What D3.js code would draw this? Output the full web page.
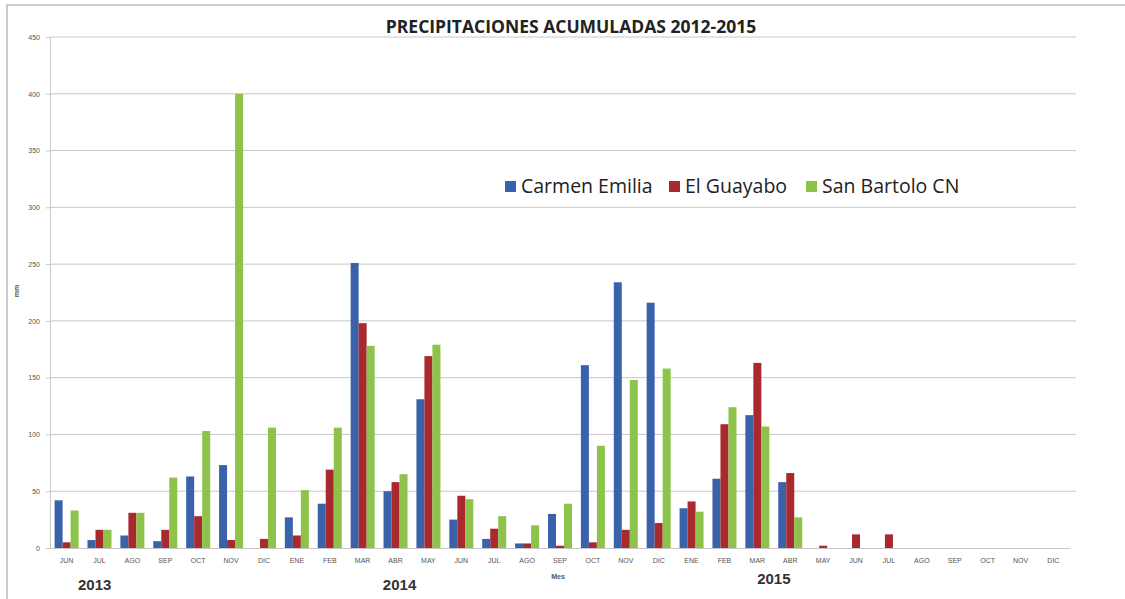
<!DOCTYPE html>
<html><head><meta charset="utf-8">
<script src="https://cdn.jsdelivr.net/npm/d3@7"></script>
<style>body{margin:0;background:#fff;}svg{display:block;}</style>
</head><body>
<script>
const months = ["JUN","JUL","AGO","SEP","OCT","NOV","DIC",
  "ENE","FEB","MAR","ABR","MAY","JUN","JUL","AGO","SEP","OCT","NOV","DIC",
  "ENE","FEB","MAR","ABR","MAY","JUN","JUL","AGO","SEP","OCT","NOV","DIC"];
const seriesNames = ["Carmen Emilia","El Guayabo","San Bartolo CN"];
const carmenEmilia = [42,7,11,6,63,73,0, 27,39,251,50,131,25,8,4,30,161,234,216, 35,61,117,58,0,0,0,0,0,0,0,0];
const elGuayabo    = [5,16,31,16,28,7,8, 11,69,198,58,169,46,17,4,2,5,16,22, 41,109,163,66,2,12,12,0,0,0,0,0];
const sanBartolo   = [33,16,31,62,103,400,106, 51,106,178,65,179,43,28,20,39,90,148,158, 32,124,107,27,0,0,0,0,0,0,0,0];
const yTicks = [0,50,100,150,200,250,300,350,400,450];
const years = ["2013","2014","2015"];
const yearIdx = [0.71, 9.98, 21.36];
const yearBase = [590, 590, 584];
const colors = ["#3a62aa","#a8292e","#8dc34a"];

const W = 1125, H = 599;
const svg = d3.select("body").append("svg").attr("width", W).attr("height", H);

// outer frame
svg.append("line").attr("x1",6).attr("x2",W).attr("y1",5).attr("y2",5).attr("stroke","#bbb").attr("stroke-width",1.5);
svg.append("line").attr("x1",7).attr("x2",7).attr("y1",5).attr("y2",H).attr("stroke","#bbb").attr("stroke-width",1.5);

const mLeft = 50, mRight = 1070, mTop = 37, mBottom = 548;
const x = d3.scaleBand().domain(d3.range(months.length)).range([mLeft, mRight]).paddingInner(0.27).paddingOuter(0.14);
const y = d3.scaleLinear().domain([0,450]).range([mBottom, mTop]);
const xs = d3.scaleBand().domain(d3.range(3)).range([0, x.bandwidth()]);

// gridlines
svg.append("g").selectAll("line").data(yTicks.filter(d=>d>0)).join("line")
  .attr("x1", mLeft).attr("x2", 1076).attr("y1", d=>y(d)).attr("y2", d=>y(d))
  .attr("stroke","#c8c8c8").attr("stroke-width",1);

// y axis
const yAxis = svg.append("g").attr("transform",`translate(${mLeft},0)`)
  .call(d3.axisLeft(y).tickValues(yTicks).tickSize(4).tickPadding(6));
yAxis.select(".domain").attr("stroke","#c8c8c8");
yAxis.selectAll(".tick line").attr("stroke","#c8c8c8");
yAxis.selectAll("text").attr("font-family","Liberation Sans, Arial").attr("font-size",7).attr("fill","#555");

// bars
const series = [carmenEmilia, elGuayabo, sanBartolo];
series.forEach((vals, si) => {
  svg.append("g").selectAll("rect").data(vals.map((v,i)=>({v,i}))).join("rect")
    .attr("x", d => x(d.i) + xs(si))
    .attr("width", xs.bandwidth())
    .attr("y", d => y(d.v))
    .attr("height", d => mBottom - y(d.v))
    .attr("fill", colors[si]);
});

// x axis
const xAxis = svg.append("g").attr("transform",`translate(0,${mBottom})`)
  .call(d3.axisBottom(x).tickFormat(i=>months[i]).tickSize(0).tickPadding(10));
xAxis.select(".domain").attr("stroke","#c8c8c8");
xAxis.selectAll("text").attr("font-family","Liberation Sans, Arial").attr("font-size",7).attr("fill","#555");

// year labels
svg.append("g").selectAll("text").data(years).join("text")
  .attr("x", (d,i) => x(0) + x.step()*yearIdx[i]).attr("y", (d,i) => yearBase[i])
  .attr("font-family","Liberation Sans, Arial").attr("font-weight","bold").attr("font-size",15).attr("fill","#333")
  .text(d=>d);

// axis titles
svg.append("text").attr("x",558).attr("y",579).attr("text-anchor","middle")
  .attr("font-family","Liberation Sans, Arial").attr("font-weight","bold").attr("font-size",7).attr("fill","#555").text("Mes");
svg.append("text").attr("transform","translate(19,291) rotate(-90)").attr("text-anchor","middle")
  .attr("font-family","Liberation Sans, Arial").attr("font-weight","bold").attr("font-size",7).attr("fill","#555").text("mm");

// title
svg.append("text").attr("x",571).attr("y",33).attr("text-anchor","middle")
  .attr("font-family","Open Sans, Liberation Sans, Arial").attr("font-weight","bold").attr("font-size",17.5).attr("fill","#222")
  .text("PRECIPITACIONES ACUMULADAS 2012-2015");

// legend
const legendX = [505, 669, 806];
const lg = svg.append("g");
seriesNames.forEach((n,i)=>{
  lg.append("rect").attr("x",legendX[i]).attr("y",181).attr("width",11).attr("height",11).attr("fill",colors[i]);
  lg.append("text").attr("x",legendX[i]+16).attr("y",193)
    .attr("font-family","Open Sans, Liberation Sans, Arial").attr("font-size",19.5).attr("fill","#222").text(n);
});
</script>
</body></html>
